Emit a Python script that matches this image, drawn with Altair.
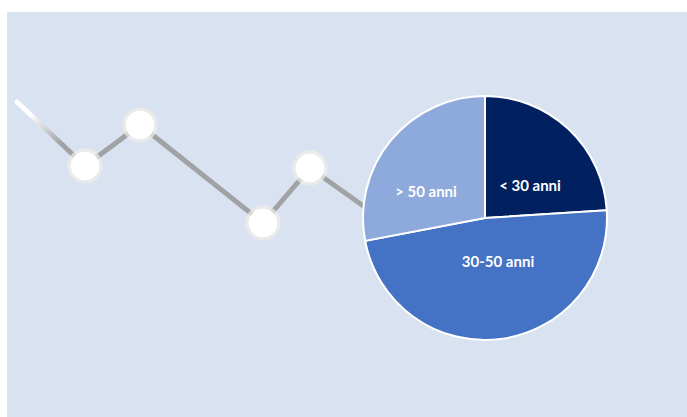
import altair as alt
import pandas as pd

# --- data ---
categories = ["< 30 anni", "30-50 anni", "> 50 anni"]
shares = [24, 48, 28]
slice_colors = ["#002060", "#4472c4", "#8eaadc"]

line_x = [7.8, 13.3, 25.6, 30.3, 39.3]
line_y = [25.1, 29.2, 19.4, 24.9, 18.5]
dot_x = [7.8, 13.3, 25.6, 30.3]
dot_y = [25.1, 29.2, 19.4, 24.9]
fade_x = [1.0, 7.8]
fade_y = [31.5, 25.1]

BG = "#d9e2f1"
GREY = "#a0a2a6"

xs = alt.Scale(domain=[0, 68])
ys = alt.Scale(domain=[0, 40.5])

pie_df = pd.DataFrame({"cat": categories, "val": shares, "ord": list(range(len(categories)))})
line_df = pd.DataFrame({"x": line_x, "y": line_y, "i": list(range(len(line_x)))})
dot_df = pd.DataFrame({"x": dot_x, "y": dot_y})
fade_df = pd.DataFrame({"x": fade_x, "y": fade_y, "i": [0, 1]})

X = alt.X("x:Q", scale=xs, axis=None)
Y = alt.Y("y:Q", scale=ys, axis=None)

fade = alt.Chart(fade_df).mark_line(
    strokeWidth=5,
    strokeCap="round",
    color=alt.Gradient(
        gradient="linear",
        stops=[alt.GradientStop(color="#ffffff", offset=0),
               alt.GradientStop(color="#ffffff", offset=0.2),
               alt.GradientStop(color=GREY, offset=0.65)],
        x1=0, y1=0, x2=1, y2=1,
    ),
).encode(x=X, y=Y, order="i:Q")

line = alt.Chart(line_df).mark_line(color=GREY, strokeWidth=5).encode(x=X, y=Y, order="i:Q")

halo = alt.Chart(dot_df).mark_circle(size=1250, color="#efeee6", opacity=0.7).encode(x=X, y=Y)
dots = alt.Chart(dot_df).mark_circle(size=820, color="#ffffff", opacity=1).encode(x=X, y=Y)

cx, cy, R = 478, 206, 122

pie = alt.Chart(pie_df).mark_arc(
    radius=R, stroke="#ffffff", strokeWidth=2
).encode(
    theta=alt.Theta("val:Q", stack=True),
    order=alt.Order("ord:Q", sort="ascending"),
    color=alt.Color("cat:N", scale=alt.Scale(domain=categories, range=slice_colors), legend=None),
    x=alt.value(cx),
    y=alt.value(cy),
)

label_pos = {"< 30 anni": (523, 174), "30-50 anni": (491, 250), "> 50 anni": (419, 180)}
texts = []
for c in categories:
    px, py = label_pos[c]
    texts.append(
        alt.Chart(pie_df).transform_filter(alt.datum.cat == c).mark_text(
            color="#ffffff", font="Lato", fontWeight="bold", fontSize=15,
            align="center", baseline="middle",
        ).encode(text="cat:N", x=alt.value(px), y=alt.value(py))
    )

chart = alt.layer(fade, line, halo, dots, pie, *texts).properties(
    width=680, height=405,
    background="#ffffff",
    padding={"left": 7, "top": 12, "right": 0, "bottom": 0},
    autosize=alt.AutoSizeParams(type="none"),
).configure_view(fill=BG, stroke=None)

chart.save("out.html", embed_options={"renderer": "svg", "actions": False})
